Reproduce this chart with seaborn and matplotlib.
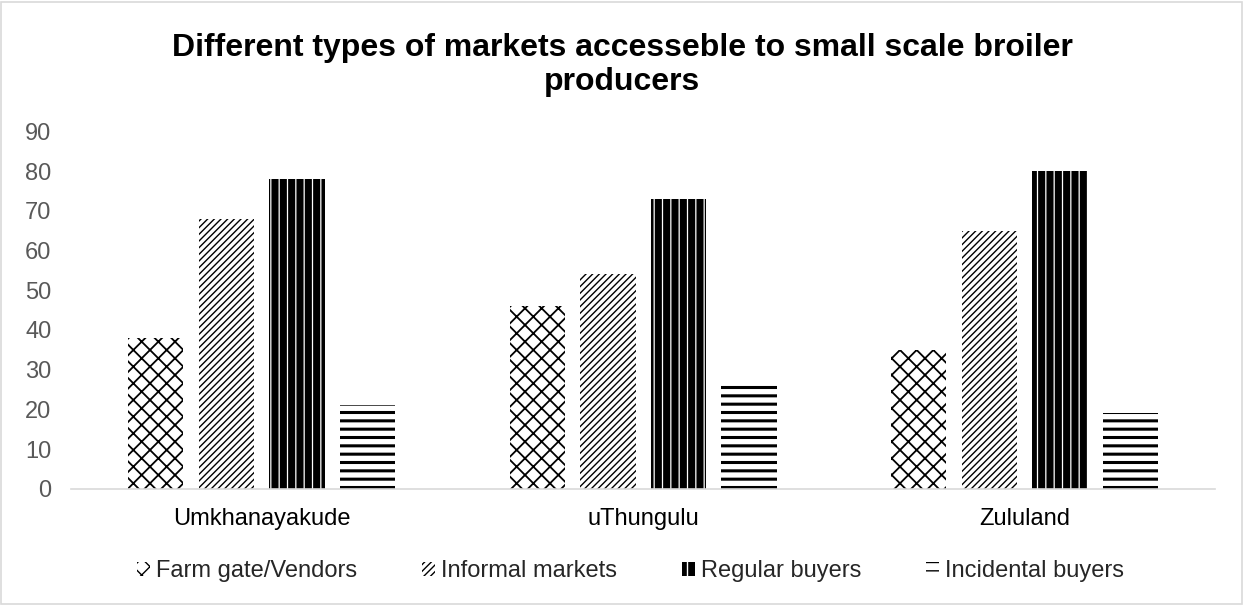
import matplotlib
matplotlib.use("Agg")
import matplotlib.pyplot as plt
import matplotlib.patches as mpatches
import seaborn as sns
import pandas as pd

districts = ["Umkhanayakude", "uThungulu", "Zululand"]
market_types = ["Farm gate/Vendors", "Informal markets", "Regular buyers", "Incidental buyers"]
farm_gate = [38, 46, 35]
informal = [68, 54, 65]
regular = [78, 73, 80]
incidental = [21, 27, 19]
y_ticks = [0, 10, 20, 30, 40, 50, 60, 70, 80, 90]
title_lines = ["Different types of markets accesseble to small scale broiler", "producers"]

series = [farm_gate, informal, regular, incidental]
rows = []
for mt, vals in zip(market_types, series):
    for d, v in zip(districts, vals):
        rows.append({"District": d, "Market": mt, "Value": v})
df = pd.DataFrame(rows)

sns.set_theme(style="white")
plt.rcParams["font.family"] = ["Liberation Sans", "DejaVu Sans"]

fig = plt.figure(figsize=(12.44, 6.05), dpi=100)
ax = fig.add_axes([0.057, 0.192, 0.920, 0.591])

sns.barplot(data=df, x="District", y="Value", hue="Market", order=districts,
            hue_order=market_types, width=0.74, gap=0.216, ax=ax,
            legend=False, errorbar=None, linewidth=0)

styles = [
    dict(face="white", edge="black", hatch="xx", lw=1.3),
    dict(face="white", edge="black", hatch="/////", lw=1.0),
    dict(face="black", edge="white", hatch="||", lw=0.9),
    dict(face="white", edge="black", hatch="--", lw=2.2),
]
for cont, st in zip(ax.containers, styles):
    for p in cont:
        p.set_facecolor(st["face"])
        p.set_edgecolor(st["edge"])
        p.set_hatch(st["hatch"])
        p.set_linewidth(0)
        if hasattr(p, "set_hatch_linewidth"):
            p.set_hatch_linewidth(st["lw"])

ax.set_ylim(0, 90)
ax.set_xlim(-0.5, 2.5)
ax.set_yticks(y_ticks)
ax.set_xlabel("")
ax.set_ylabel("")
for s in ["top", "right", "left"]:
    ax.spines[s].set_visible(False)
ax.spines["bottom"].set_color("#d9d9d9")
ax.spines["bottom"].set_linewidth(1.2)
ax.tick_params(axis="both", length=0)
ax.tick_params(axis="y", labelcolor="#595959", labelsize=17, pad=14)
ax.tick_params(axis="x", labelcolor="black", labelsize=17, pad=14)

fig.text(0.5, 1 - 48 / 605, title_lines[0], ha="center", va="center", fontsize=23,
         fontweight="bold", color="black")
fig.text(0.5, 1 - 82 / 605, title_lines[1], ha="center", va="center", fontsize=23,
         fontweight="bold", color="black")

handles = []
for st, mt in zip(styles, market_types):
    h = mpatches.Patch(facecolor=st["face"], edgecolor=st["edge"], hatch=st["hatch"],
                       linewidth=0, label=mt)
    handles.append(h)
fig.legend(handles=handles, loc="center", bbox_to_anchor=(0.507, 1 - 571 / 605),
           ncol=4, frameon=False, fontsize=17, handlelength=0.55, handleheight=0.55,
           handletextpad=0.25, columnspacing=2.75)

border = mpatches.Rectangle((0.001, 0.002), 0.997, 0.995, transform=fig.transFigure,
                            fill=False, edgecolor="#d9d9d9", linewidth=1.2)
fig.patches.append(border)

fig.savefig("out.png", dpi=100)
